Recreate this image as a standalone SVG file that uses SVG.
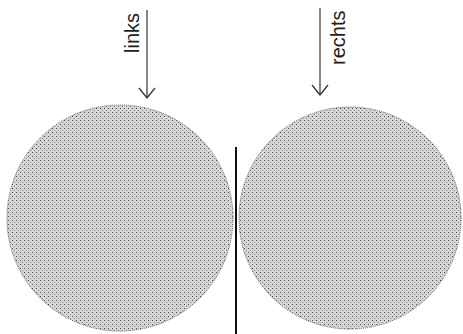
<svg xmlns="http://www.w3.org/2000/svg" width="463" height="334" viewBox="0 0 463 334">
<style>
.disc{fill:url(#stipple);stroke:#555;stroke-width:1;stroke-dasharray:1 1}
.lbl{font-family:"Liberation Sans",Arial,sans-serif;font-size:20px;fill:#222}
.arr{stroke:#333;stroke-width:1.2;fill:none}
</style>
<defs>
<pattern id="stipple" width="4" height="4" patternUnits="userSpaceOnUse">
<rect width="4" height="4" fill="#d6d6d6"/>
<rect x="0" y="0" width="1" height="1" fill="#444"/>
<rect x="2" y="2" width="1" height="1" fill="#888"/>
</pattern>
<marker id="vhead" viewBox="0 0 14 18" refX="13" refY="9" markerWidth="14" markerHeight="18" markerUnits="userSpaceOnUse" orient="auto">
<path d="M3,1 L13,9 L3,17" fill="none" stroke="#333" stroke-width="1.3"/>
</marker>
</defs>
<g id="disc-left"><circle class="disc" cx="120" cy="218" r="113"/></g>
<g id="disc-right"><circle class="disc" cx="350" cy="218" r="111"/></g>
<g id="label-links"><text class="lbl" transform="translate(139,53) rotate(-90)">links</text></g>
<g id="label-rechts"><text class="lbl" transform="translate(345,65) rotate(-90)">rechts</text></g>
<g id="connectors">
<path class="arr" d="M147,10 V98" marker-end="url(#vhead)"/>
<path class="arr" d="M320,8 V95" marker-end="url(#vhead)"/>
<line x1="236" y1="147" x2="236" y2="334" stroke="#111" stroke-width="2"/>
</g>
</svg>
